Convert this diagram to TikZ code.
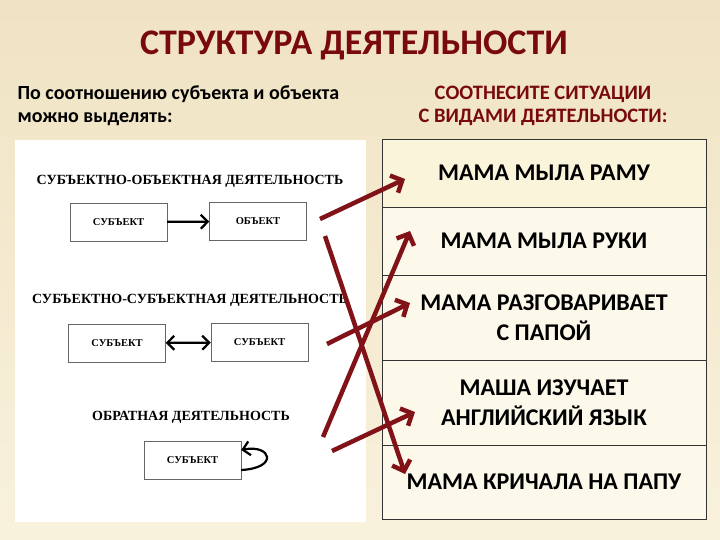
\documentclass[tikz,border=0pt]{standalone}
\usepackage{fontspec}
\setmainfont{Carlito}
\newfontfamily\timesf{Liberation Serif}
\usetikzlibrary{arrows.meta}
\definecolor{bordo}{RGB}{120,10,12}
\definecolor{fontop}{RGB}{240,227,195}
\definecolor{fonbot}{RGB}{248,241,220}
\definecolor{strelka}{RGB}{128,18,24}
\definecolor{rowfill}{RGB}{252,249,235}
\definecolor{rowtop}{RGB}{250,244,218}

\begin{document}
\begin{tikzpicture}[x=1pt,y=-1pt,
  head/.style={font=\timesf\bfseries\fontsize{14}{14}\selectfont},
  box/.style={draw=black!60,fill=white,minimum width=97pt,minimum height=38pt,inner sep=0pt,
    font=\timesf\bfseries\fontsize{10.5}{10.5}\selectfont},
  row/.style={draw=black!80,fill=rowfill,minimum width=324pt,inner sep=0pt,align=center,
    font=\bfseries\fontsize{24}{29.5}\selectfont},
  thinarrow/.style={line width=2.2pt,-{Straight Barb[length=7pt,width=14pt]}},
  pointer/.style={strelka,line width=4.5pt,-{Straight Barb[length=9pt,width=19pt]}}]
  \useasboundingbox (0,0) rectangle (720,540);
  \shade[top color=fontop,bottom color=fonbot] (0,0) rectangle (720,540);

  \node[bordo,font=\bfseries\fontsize{36}{36}\selectfont] (title) at (354,45) {СТРУКТУРА ДЕЯТЕЛЬНОСТИ};
  \node[anchor=west,align=left,font=\bfseries\fontsize{20}{23}\selectfont] (left) at (14,106)
    {По соотношению субъекта и объекта\\можно выделять:};
  \node[bordo,align=center,font=\bfseries\fontsize{20.5}{23}\selectfont] (right) at (543,106)
    {СООТНЕСИТЕ СИТУАЦИИ\\С ВИДАМИ ДЕЯТЕЛЬНОСТИ:};

  \node[fill=white,minimum width=351pt,minimum height=382pt,inner sep=0pt] (panel) at (190.5,331) {};
  \node[head] (h1) at (190,181) {СУБЪЕКТНО-ОБЪЕКТНАЯ ДЕЯТЕЛЬНОСТЬ};
  \node[box] (s1) at (118.5,222) {СУБЪЕКТ};
  \node[box] (o1) at (258,221.5) {ОБЪЕКТ};
  \draw[thinarrow] (s1) -- (o1);
  \node[head] (h2) at (190,300) {СУБЪЕКТНО-СУБЪЕКТНАЯ ДЕЯТЕЛЬНОСТЬ};
  \node[box] (s2) at (117,343) {СУБЪЕКТ};
  \node[box] (s3) at (259.5,342.5) {СУБЪЕКТ};
  \draw[line width=2.2pt,{Straight Barb[length=7pt,width=14pt]}-{Straight Barb[length=7pt,width=14pt]}] (s2) -- (s3);
  \node[head] (h3) at (191,417) {ОБРАТНАЯ ДЕЯТЕЛЬНОСТЬ};
  \node[box] (s4) at (192.5,460) {СУБЪЕКТ};
  \draw[thinarrow] ([yshift=-10pt]s4.east) .. controls +(38,-2) and +(30,-6) .. ([yshift=10pt]s4.east);

  \node[row,fill=rowtop,minimum height=68pt] (r1) at (544,173) {МАМА МЫЛА РАМУ};
  \node[row,minimum height=68pt] (r2) at (544,241) {МАМА МЫЛА РУКИ};
  \node[row,minimum height=85pt] (r3) at (544,317.5) {МАМА РАЗГОВАРИВАЕТ\\С ПАПОЙ};
  \node[row,minimum height=85pt] (r4) at (544,402.5) {МАША ИЗУЧАЕТ\\АНГЛИЙСКИЙ ЯЗЫК};
  \node[row,minimum height=74pt] (r5) at (544,482) {МАМА КРИЧАЛА НА ПАПУ};

  \coordinate (t1) at (320,219);
  \coordinate (t2) at (325,236);
  \coordinate (t3) at (323,437);
  \coordinate (t4) at (327,344);
  \coordinate (t5) at (332,451);
  \coordinate (e1) at (405,179);
  \coordinate (e2) at (405,474);
  \coordinate (e3) at (410,231);
  \coordinate (e4) at (410,303);
  \coordinate (e5) at (415,412);
  \draw[pointer] (t1) -- (e1);
  \draw[pointer] (t2) -- (e2);
  \draw[pointer] (t3) -- (e3);
  \draw[pointer] (t4) -- (e4);
  \draw[pointer] (t5) -- (e5);
\end{tikzpicture}
\end{document}
